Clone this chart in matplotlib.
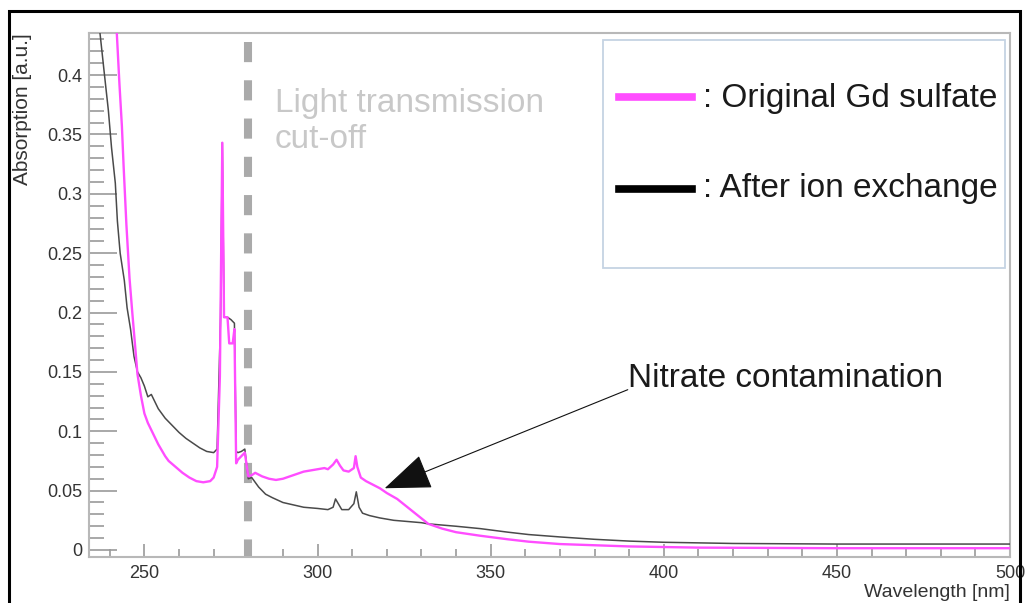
import matplotlib.pyplot as plt
from matplotlib.patches import Rectangle, FancyArrowPatch
from matplotlib.lines import Line2D
from matplotlib.ticker import MultipleLocator, FuncFormatter

plt.rcParams['font.family'] = ['Liberation Sans', 'DejaVu Sans']

# After ion exchange (black)
after_wl = [234, 237, 238.4, 239.6, 240.5, 241.6, 242.2, 243, 244.2, 245, 246, 247, 248, 249,
            250, 251, 252, 253, 254, 255, 256, 258, 260, 262, 264, 266, 268, 270, 271,
            272, 272.5, 273, 274, 275, 276, 276.5, 277, 278, 279, 280, 281, 282, 283, 284,
            285, 287, 290, 293, 296, 300, 303, 304.5, 305.2, 306, 307, 309, 310.5, 311.2,
            312, 313, 315, 318, 322, 326, 330, 332, 336, 340, 347, 355, 361, 370, 380, 390,
            400, 420, 450, 500]
after_abs = [0.45, 0.44, 0.402, 0.37, 0.339, 0.309, 0.277, 0.25, 0.227, 0.204, 0.186, 0.163, 0.15, 0.145,
             0.138, 0.129, 0.131, 0.125, 0.119, 0.115, 0.111, 0.105, 0.099, 0.094, 0.09, 0.086, 0.083, 0.082, 0.085,
             0.196, 0.343, 0.196, 0.196, 0.194, 0.191, 0.083, 0.082, 0.083, 0.085, 0.06, 0.061, 0.057, 0.053, 0.05,
             0.047, 0.044, 0.04, 0.038, 0.036, 0.035, 0.034, 0.036, 0.043, 0.039, 0.034, 0.034, 0.039, 0.049,
             0.036, 0.031, 0.029, 0.027, 0.025, 0.024, 0.023, 0.022, 0.021, 0.02, 0.018, 0.015, 0.013, 0.011, 0.009, 0.0075,
             0.0065, 0.0055, 0.005, 0.005]

# Original Gd sulfate (magenta)
orig_wl = [234, 242, 242.8, 243.5, 244, 244.8, 245.7, 246.5, 247.2, 248, 249, 250, 251, 252,
           253, 254, 255, 256, 257, 259, 261, 263, 265, 267, 269, 270, 271, 271.8, 272.5,
           273, 274, 274.5, 275.5, 276, 276.5, 277, 278, 279, 280, 281, 282, 284, 286, 288,
           290, 292, 294, 296, 298, 300, 302, 303, 304.5, 305.5, 306.5, 307.5, 309, 310.5,
           311, 311.5, 312.5, 314, 316, 318, 320, 323, 326, 329, 332, 336, 340, 347, 355,
           361, 370, 380, 390, 400, 410, 450, 500]
orig_abs = [0.437, 0.437, 0.392, 0.357, 0.323, 0.274, 0.229, 0.2, 0.176, 0.148, 0.13, 0.115, 0.107, 0.101,
            0.095, 0.089, 0.084, 0.079, 0.075, 0.07, 0.065, 0.061, 0.058, 0.057, 0.058, 0.061, 0.07, 0.146, 0.343,
            0.196, 0.196, 0.174, 0.174, 0.186, 0.073, 0.076, 0.079, 0.082, 0.062, 0.063, 0.065, 0.062, 0.06, 0.059,
            0.06, 0.062, 0.064, 0.066, 0.067, 0.068, 0.069, 0.068, 0.072, 0.076, 0.071, 0.067, 0.066, 0.069,
            0.079, 0.07, 0.061, 0.058, 0.055, 0.052, 0.048, 0.043, 0.036, 0.029, 0.022, 0.018, 0.015, 0.012, 0.009,
            0.007, 0.005, 0.004, 0.003, 0.0025, 0.002, 0.0015, 0.0015]

legend_labels = [': Original Gd sulfate', ': After ion exchange']
cutoff_wl = 280

W, H = 1028, 603


def fx(x):
    return x / W


def fy(y):
    return 1 - y / H


fig = plt.figure(figsize=(W / 100, H / 100), dpi=100)
ax = fig.add_axes([fx(89), fy(557), (1010 - 89) / W, (557 - 33) / H])

ax.plot(after_wl, after_abs, color='#4a4a4a', lw=1.1, zorder=3)
ax.plot(orig_wl, orig_abs, color='#ff4dff', lw=1.7, zorder=4)

# cut-off line
ax.plot([cutoff_wl, cutoff_wl], [0.428, -0.006], color='#aaaaaa', lw=5.8,
        dashes=(2.5, 2.25), zorder=2)
ax.text(287.6, 0.369, 'Light transmission', fontsize=24, color='#c8c8c8')
ax.text(287.6, 0.3385, 'cut-off', fontsize=24, color='#c8c8c8')

# nitrate annotation
ax.text(389.6, 0.137, 'Nitrate contamination', fontsize=24, color='#1a1a1a')
arr = FancyArrowPatch((389.6, 0.135), (319.4, 0.052),
                      arrowstyle='-|>,head_length=3.0,head_width=1.15',
                      mutation_scale=10, color='#111111', lw=0.8, zorder=5,
                      shrinkA=0, shrinkB=0)
ax.add_patch(arr)

ax.set_xlim(234, 500)
ax.set_ylim(-0.0059, 0.4354)
ax.xaxis.set_major_locator(MultipleLocator(50))
ax.xaxis.set_minor_locator(MultipleLocator(10))
ax.yaxis.set_minor_locator(MultipleLocator(0.01))
ax.set_yticks([i * 0.05 for i in range(9)])
ax.yaxis.set_major_formatter(FuncFormatter(lambda v, p: '%g' % round(v, 3)))

ax.tick_params(axis='y', which='major', direction='in', length=20, width=1.2,
               color='#9a9a9a', labelsize=13, labelcolor='#333333', pad=5)
ax.tick_params(axis='y', which='minor', direction='in', length=11, width=1.2, color='#9a9a9a')
ax.tick_params(axis='x', which='major', direction='in', length=9.5, width=1.2,
               color='#9a9a9a', labelsize=13, labelcolor='#333333', pad=6)
ax.tick_params(axis='x', which='minor', direction='in', length=6, width=1.2, color='#9a9a9a')
for s in ax.spines.values():
    s.set_color('#b8b8b8')
    s.set_linewidth(1.5)

fig.text(fx(23), fy(33), 'Absorption [a.u.]', rotation=90, ha='center', va='top',
         fontsize=15, color='#333333')
fig.text(fx(1010), fy(597), 'Wavelength [nm]', ha='right', va='baseline',
         fontsize=14, color='#333333')

# legend box
fig.add_artist(Rectangle((fx(603), fy(268)), (1005 - 603) / W, (268 - 40) / H,
                         transform=fig.transFigure, fill=False, ec='#c5d3e3', lw=1.3))
fig.add_artist(Line2D([fx(619), fx(692)], [fy(97), fy(97)], transform=fig.transFigure,
                      color='#ff4dff', lw=5.5))
fig.add_artist(Line2D([fx(619), fx(692)], [fy(189), fy(189)], transform=fig.transFigure,
                      color='#000000', lw=5.5))
fig.text(fx(703), fy(107), legend_labels[0], fontsize=24, color='#1a1a1a', va='baseline')
fig.text(fx(703), fy(197), legend_labels[1], fontsize=24, color='#1a1a1a', va='baseline')

# outer frame
fig.add_artist(Rectangle((fx(9), -0.2), (1020 - 9) / W, fy(11) + 0.2,
                         transform=fig.transFigure, fill=False, ec='black', lw=2.2,
                         clip_on=False))

fig.savefig('out.png', dpi=100)
